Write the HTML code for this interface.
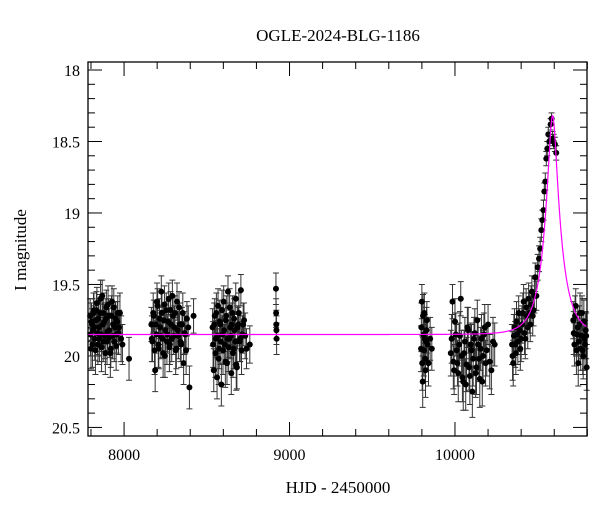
<!DOCTYPE html>
<html><head><meta charset="utf-8"><style>
body{margin:0;background:#fff}
svg text{font-family:"Liberation Serif","DejaVu Serif",serif;fill:#000}
</style></head><body>
<svg id="chart" width="600" height="512" viewBox="0 0 600 512" xmlns="http://www.w3.org/2000/svg">
<rect x="0" y="0" width="600" height="512" fill="#fff"/>
<text x="338" y="41" font-size="17" text-anchor="middle">OGLE-2024-BLG-1186</text>
<text x="338" y="493" font-size="17" text-anchor="middle">HJD - 2450000</text>
<text x="0" y="0" font-size="17" text-anchor="middle" transform="translate(26,250) rotate(-90)">I magnitude</text>
<g id="ticks"></g>
<g id="errs"></g>
<g id="pts"></g>
<path id="model" fill="none" stroke="#ff00ff" stroke-width="1.2"/>
<rect x="88" y="62" width="499" height="374" fill="none" stroke="#000" stroke-width="1.3"/>
</svg>
<script>
const xTicks=[8000,9000,10000];
const yTicks=[18,18.5,19,19.5,20,20.5];
const yTickLabels=["18","18.5","19","19.5","20","20.5"];
const hjd=[7795,7800,7806,7812,7818,7823,7830,7836,7842,7848,7855,7861,7868,7874,7880,7887,7893,7900,7906,7913,7920,7927,7934,7941,7948,7955,7962,7970,7990,8030,
8165,8172,8180,8188,8195,8203,8210,8218,8225,8232,8240,8247,8255,8262,8270,8277,8284,8292,8300,8308,8316,8324,8332,8340,8350,8360,8370,8380,8395,8420,
8535,8542,8548,8555,8562,8568,8575,8582,8588,8595,8602,8608,8615,8622,8628,8635,8642,8648,8655,8662,8668,8675,8682,8690,8698,8706,8715,8725,8740,8760,
8918,8919,8920,8921,8922,
9795,9800,9805,9810,9815,9820,9825,9830,9840,9850,9860,9975,9985,9995,10005,10015,10025,10035,10045,10055,10065,10075,10085,10095,10105,10115,10125,10135,10145,10155,10165,10175,10185,10200,10220,10240,
10345,10352,10360,10368,10375,10385,10395,10405,10415,10425,10435,10445,10455,10465,10475,10485,10492,10500,10508,10515,10522,10528,10535,10540,10546,10552,10558,10564,10570,10578,10584,10590,10596,10604,10612,
10715,10722,10730,10738,10745,10752,10760,10768,10775,10782,10790,10796,
7797,7803,7809,7815,7821,7827,7833,7839,7845,7851,7858,7864,7871,7877,7884,7890,7897,7903,7910,7917,7924,7931,7938,7945,7952,7959,7966,7975,7982,
8168,8176,8184,8192,8199,8207,8214,8222,8229,8236,8244,8251,8259,8266,8274,8281,8288,8296,8304,8312,8320,8328,8336,8345,8355,8365,8375,8388,
8538,8545,8552,8558,8565,8572,8578,8585,8592,8598,8605,8612,8618,8625,8632,8638,8645,8652,8658,8665,8672,8678,8686,8694,8702,8710,8720,8732,
9797,9802,9807,9812,9818,9822,9828,9835,9980,9990,10000,10010,10020,10030,10040,10050,10060,10070,10080,10090,10100,10110,10120,10130,10140,10150,10160,10170,10180,10192,10210,10230,
10348,10356,10364,10372,10380,10390,10400,10410,10420,10430,10440,10450,10460,10470,10480,
10718,10726,10734,10742,10749,10756,10764,10772,10779,10786,10793];
const mag=[19.72,19.95,19.78,19.82,19.68,19.88,19.75,19.63,19.92,19.80,19.70,19.85,19.58,19.90,19.76,19.98,19.66,19.83,19.72,19.87,19.95,19.62,19.78,19.90,19.74,19.85,19.70,19.80,19.92,20.02,
19.78,19.90,19.72,20.10,19.85,19.65,19.95,19.80,19.55,19.88,19.75,20.00,19.68,19.85,19.60,19.92,19.78,19.58,19.86,19.70,19.95,19.82,19.66,19.90,19.78,20.05,19.85,19.74,20.22,19.72,
19.80,20.10,19.72,19.88,20.15,19.65,19.95,19.78,20.20,19.85,19.62,19.92,19.75,20.05,19.55,19.88,19.80,20.12,19.70,19.95,19.82,19.60,20.08,19.78,19.90,19.54,19.85,19.75,19.95,19.92,
19.53,19.70,19.78,19.82,19.88,
19.95,19.62,20.18,19.85,19.70,20.02,19.90,19.75,20.05,19.88,19.95,19.98,19.62,20.10,19.85,20.05,19.92,19.60,20.15,19.98,20.20,19.80,20.08,19.92,20.25,19.88,20.12,19.75,20.02,19.95,20.18,19.85,20.05,19.78,20.10,19.92,
19.92,20.05,19.80,19.98,19.85,19.70,19.95,19.78,19.62,19.88,19.72,19.60,19.78,19.55,19.68,19.45,19.58,19.38,19.32,19.25,19.12,19.05,18.98,18.85,18.78,18.62,18.55,18.45,18.50,18.38,18.34,18.48,18.50,18.52,18.58,
19.75,19.92,19.65,19.85,20.05,19.78,19.95,19.70,20.00,19.88,19.82,20.08,
19.85,19.76,19.92,19.70,19.80,19.96,19.68,19.84,19.74,19.88,19.60,19.94,19.78,19.70,19.86,19.74,19.90,19.64,19.82,19.98,19.72,19.86,19.66,19.80,19.93,19.76,19.84,19.70,19.88,
19.88,19.70,19.96,19.78,19.62,19.92,19.74,19.86,19.70,19.98,19.64,19.82,19.90,19.76,19.94,19.68,19.88,19.72,19.80,19.96,19.62,19.86,19.78,19.92,19.70,19.84,19.96,19.80,
19.92,19.78,19.98,19.70,19.86,20.02,19.76,19.90,19.68,19.96,19.82,20.04,19.72,19.88,19.94,19.66,19.86,19.78,19.98,19.74,19.90,20.06,19.80,19.70,19.88,19.96,19.78,19.86,
19.80,20.05,19.72,19.96,19.88,20.10,19.82,19.92,19.88,20.04,19.76,19.96,20.12,19.86,20.00,20.18,19.90,20.06,19.82,20.14,19.96,20.02,19.84,20.08,19.92,20.16,19.88,20.00,19.80,19.96,20.04,19.90,
20.00,19.86,19.92,19.76,19.90,19.82,19.88,19.70,19.84,19.66,19.80,19.70,19.64,19.72,19.58,
19.84,19.72,19.96,19.80,19.90,19.70,19.86,19.96,19.76,19.92,19.86];
const err=[0.12,0.14,0.11,0.13,0.12,0.15,0.12,0.11,0.14,0.12,0.13,0.12,0.11,0.14,0.12,0.15,0.12,0.13,0.12,0.14,0.13,0.11,0.12,0.14,0.12,0.13,0.12,0.12,0.14,0.15,
0.12,0.14,0.11,0.15,0.13,0.12,0.14,0.12,0.11,0.13,0.12,0.15,0.12,0.13,0.11,0.14,0.12,0.11,0.13,0.12,0.14,0.13,0.11,0.14,0.12,0.15,0.13,0.12,0.15,0.12,
0.13,0.15,0.12,0.13,0.15,0.12,0.14,0.12,0.15,0.13,0.11,0.14,0.12,0.15,0.11,0.13,0.12,0.15,0.12,0.14,0.13,0.11,0.15,0.12,0.14,0.11,0.13,0.12,0.14,0.13,
0.11,0.10,0.10,0.10,0.11,
0.16,0.12,0.18,0.15,0.14,0.16,0.15,0.13,0.16,0.15,0.15,0.16,0.12,0.17,0.15,0.16,0.15,0.12,0.17,0.16,0.18,0.14,0.16,0.15,0.18,0.15,0.17,0.14,0.16,0.15,0.17,0.15,0.16,0.14,0.17,0.15,
0.14,0.16,0.13,0.15,0.14,0.12,0.15,0.13,0.12,0.14,0.12,0.11,0.12,0.11,0.11,0.10,0.10,0.09,0.09,0.08,0.08,0.07,0.07,0.06,0.06,0.05,0.05,0.05,0.05,0.04,0.04,0.05,0.05,0.05,0.05,
0.13,0.15,0.12,0.14,0.16,0.13,0.15,0.12,0.16,0.14,0.13,0.16,
0.15,0.13,0.16,0.14,0.15,0.17,0.13,0.15,0.14,0.16,0.13,0.17,0.15,0.14,0.16,0.14,0.16,0.13,0.15,0.17,0.14,0.16,0.13,0.15,0.17,0.14,0.15,0.14,0.16,
0.16,0.14,0.17,0.15,0.13,0.16,0.14,0.16,0.14,0.17,0.13,0.15,0.16,0.14,0.17,0.13,0.16,0.14,0.15,0.17,0.13,0.16,0.15,0.16,0.14,0.15,0.17,0.15,
0.16,0.15,0.17,0.14,0.16,0.18,0.15,0.16,0.14,0.17,0.15,0.18,0.14,0.16,0.17,0.13,0.16,0.15,0.17,0.14,0.16,0.18,0.15,0.14,0.16,0.17,0.15,0.16,
0.17,0.19,0.15,0.18,0.17,0.19,0.16,0.18,0.17,0.19,0.16,0.18,0.20,0.17,0.18,0.20,0.17,0.19,0.16,0.20,0.18,0.19,0.17,0.19,0.18,0.20,0.17,0.18,0.16,0.18,0.19,0.17,
0.17,0.15,0.16,0.14,0.16,0.15,0.16,0.14,0.15,0.13,0.15,0.14,0.13,0.14,0.12,
0.15,0.14,0.17,0.15,0.16,0.14,0.16,0.17,0.15,0.17,0.16];
const modelT0=10590, modelU0=0.25, modelTE=98, modelBase=19.85;

const X0=88,X1=587,Y0=62,Y1=436;
const xmin=7782,xmax=10798,ymin=17.944,ymax=20.56;
const sx=t=>X0+(t-xmin)/(xmax-xmin)*(X1-X0);
const sy=m=>Y0+(m-ymin)/(ymax-ymin)*(Y1-Y0);
const NS="http://www.w3.org/2000/svg";
function mk(tag,parent,attrs){const e=document.createElementNS(NS,tag);for(const k in attrs)e.setAttribute(k,attrs[k]);parent.appendChild(e);return e;}
const tg=document.getElementById('ticks');
for(let t=7800;t<=10800;t+=200){
  const major=xTicks.includes(t), L=major?14:7, x=sx(t);
  const a=mk('line',tg,{x1:x,x2:x,y1:Y1,y2:Y1-L,stroke:'#000','stroke-width':1});
  
  
  const b=mk('line',tg,{x1:x,x2:x,y1:Y0,y2:Y0+L,stroke:'#000','stroke-width':1});
  
  
}
xTicks.forEach(t=>{
  const tx=mk('text',tg,{x:sx(t),y:Y1+24,'font-size':16,'text-anchor':'middle'});
  tx.textContent=t;
  
  
});
for(let i=0;i<=26;i++){
  const m=18+i*0.1; if(m>ymax)break;
  const major=i%5===0, L=major?14:7, y=sy(m);
  const a=mk('line',tg,{x1:X0,x2:X0+L,y1:y,y2:y,stroke:'#000','stroke-width':1});
  
  
  const b=mk('line',tg,{x1:X1,x2:X1-L,y1:y,y2:y,stroke:'#000','stroke-width':1});
  
  
}
yTicks.forEach((m,i)=>{
  const tx=mk('text',tg,{x:X0-8,y:sy(m)+6,'font-size':16,'text-anchor':'end'});
  tx.textContent=yTickLabels[i];
  
  
});
const eg=document.getElementById('errs'), pg=document.getElementById('pts');
hjd.forEach((t,i)=>{
  const x=sx(t), y=sy(mag[i]), ya=sy(mag[i]-err[i]), yb=sy(mag[i]+err[i]);
  const g=mk('path',eg,{d:`M${x},${ya}V${yb}M${x-3},${ya}H${x+3}M${x-3},${yb}H${x+3}`,stroke:'#333','stroke-width':1,fill:'none'});
  
  
  const c=mk('circle',pg,{cx:x,cy:y,r:3,fill:'#000'});
  
  
});
const A=u=>(u*u+2)/(u*Math.sqrt(u*u+4));
let d='';
for(let t=xmin;t<=xmax;t+=1){
  const u=Math.sqrt(modelU0*modelU0+((t-modelT0)/modelTE)**2);
  const m=modelBase-2.5*Math.log10(A(u));
  d+=(d?'L':'M')+sx(t).toFixed(2)+','+sy(m).toFixed(2);
}
document.getElementById('model').setAttribute('d',d);
</script>
</body></html>
